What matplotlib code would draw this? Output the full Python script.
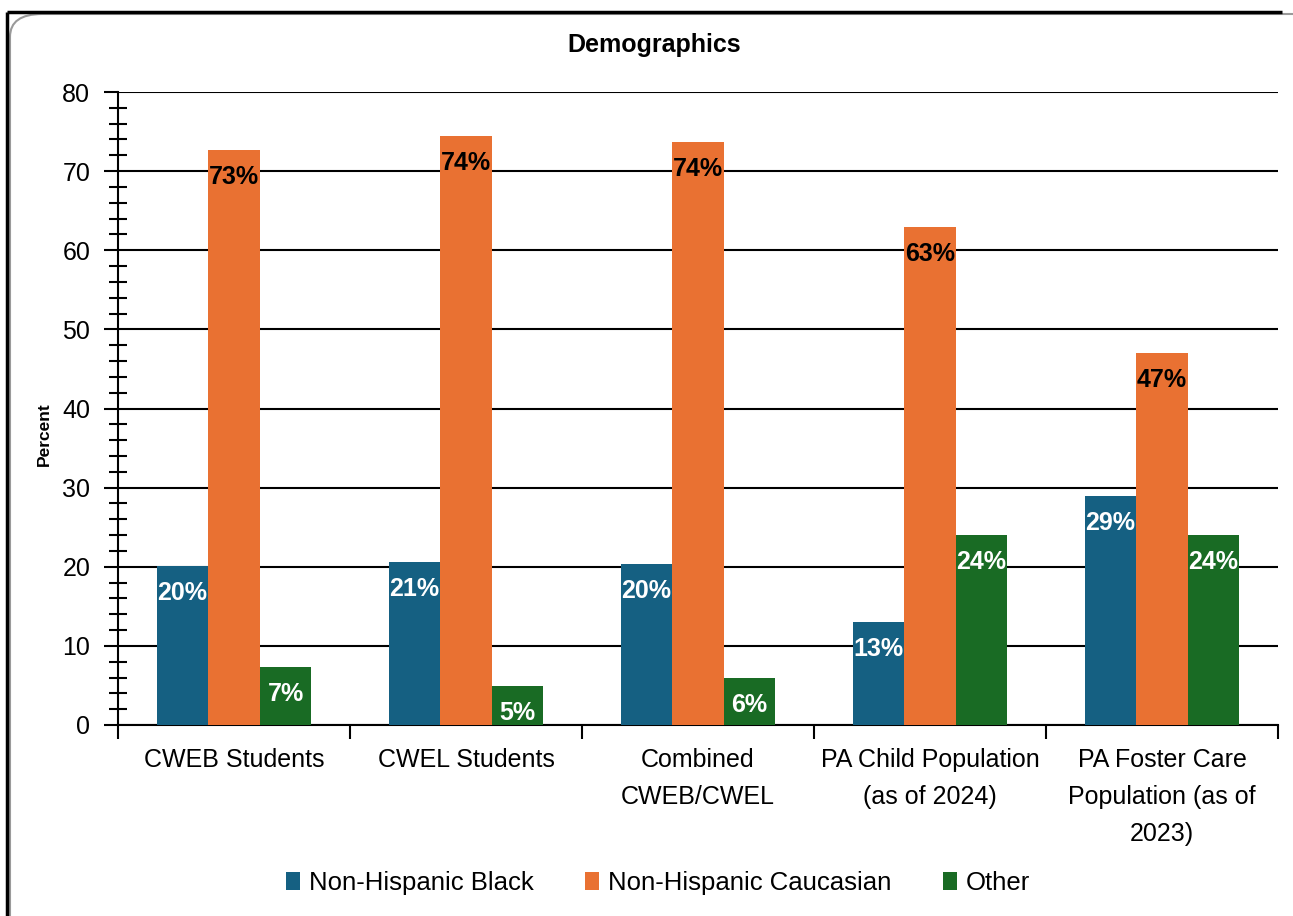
import matplotlib
matplotlib.use("Agg")
import matplotlib.pyplot as plt
import numpy as np
from matplotlib.patches import FancyBboxPatch
from matplotlib.lines import Line2D
from matplotlib.ticker import MultipleLocator

plt.rcParams['font.family'] = ['Liberation Sans', 'DejaVu Sans']

categories = ["CWEB Students", "CWEL Students", "Combined\nCWEB/CWEL",
              "PA Child Population\n(as of 2024)", "PA Foster Care\nPopulation (as of\n2023)"]
series_names = ["Non-Hispanic Black", "Non-Hispanic Caucasian", "Other"]
black_vals = [20.1, 20.6, 20.4, 13.0, 29.0]
cauc_vals = [72.7, 74.5, 73.7, 63.0, 47.0]
other_vals = [7.3, 4.9, 5.9, 24.0, 24.0]
black_labels = ["20%", "21%", "20%", "13%", "29%"]
cauc_labels = ["73%", "74%", "74%", "63%", "47%"]
other_labels = ["7%", "5%", "6%", "24%", "24%"]
colors = ["#156082", "#E97132", "#196B24"]
label_colors = ["white", "black", "white"]

fig = plt.figure(figsize=(12.93, 9.16), dpi=100)

# frame
fig.patches.append(FancyBboxPatch((10/1293, -0.05), 1.05, (916-14)/916 + 0.05,
                                  boxstyle="round,pad=0,rounding_size=0.025",
                                  transform=fig.transFigure, facecolor="none",
                                  edgecolor="#9a9a9a", linewidth=1.5, zorder=-1))
fig.lines.append(Line2D([7/1293, 7/1293], [0, (916-12)/916], transform=fig.transFigure,
                        color="black", lw=2.5, solid_capstyle="butt"))
fig.lines.append(Line2D([7/1293, 1282/1293], [(916-12)/916, (916-12)/916],
                        transform=fig.transFigure, color="black", lw=2.5,
                        solid_capstyle="butt"))

ax = fig.add_axes([118/1293, 1 - 725/916, (1278-118)/1293, (725-92)/916])
ax.set_facecolor("none")

x = np.arange(len(categories))
w = 0.222
all_vals = [black_vals, cauc_vals, other_vals]
all_labels = [black_labels, cauc_labels, other_labels]
for i, (vals, labs) in enumerate(zip(all_vals, all_labels)):
    pos = x + (i - 1) * w
    bars = ax.bar(pos, vals, width=w, color=colors[i], label=series_names[i], zorder=3)
    for b, v, lab in zip(bars, vals, labs):
        ax.annotate(lab, (b.get_x() + b.get_width() / 2, v), xytext=(0, -27),
                    textcoords="offset pixels", ha="center", va="center",
                    fontsize=18, fontweight="bold", color=label_colors[i], zorder=4)

ax.set_xlim(-0.5, len(categories) - 0.5)
ax.set_ylim(0, 80)
ax.yaxis.set_major_locator(MultipleLocator(10))
ax.yaxis.set_minor_locator(MultipleLocator(2))
ax.grid(axis="y", which="major", color="black", lw=1.5, zorder=1)
ax.set_axisbelow(True)
for s in ["top", "right"]:
    ax.spines[s].set_visible(False)
ax.spines["left"].set_linewidth(1.5)
ax.spines["bottom"].set_linewidth(1.5)
ax.tick_params(axis="y", which="major", direction="out", length=10, width=1.5,
               labelsize=18, pad=10)
ax.tick_params(axis="y", which="minor", direction="inout", length=13, width=1.5)

# category ticks at boundaries
ax.set_xticks(np.arange(len(categories) + 1) - 0.5, minor=False)
ax.set_xticklabels([])
ax.tick_params(axis="x", which="major", direction="out", length=10, width=1.5)
for xi, c in zip(x, categories):
    ax.text(xi, -2.9, c, ha="center", va="top", fontsize=18, linespacing=1.68,
            transform=ax.transData)

fig.text(44/1293, 1 - 434/916, "Percent", rotation=90, ha="center", va="center",
         fontsize=12.5, fontweight="bold")
fig.text(654/1293, 1 - 45/916, "Demographics", ha="center", va="center",
         fontsize=18, fontweight="bold")

leg = fig.legend(loc="center", bbox_to_anchor=(658/1293, 1 - 883/916), ncol=3, frameon=False,
                 fontsize=18.5, handlelength=0.55, handleheight=0.75, handletextpad=0.35,
                 columnspacing=2.0)

fig.savefig("out.png", dpi=100)
